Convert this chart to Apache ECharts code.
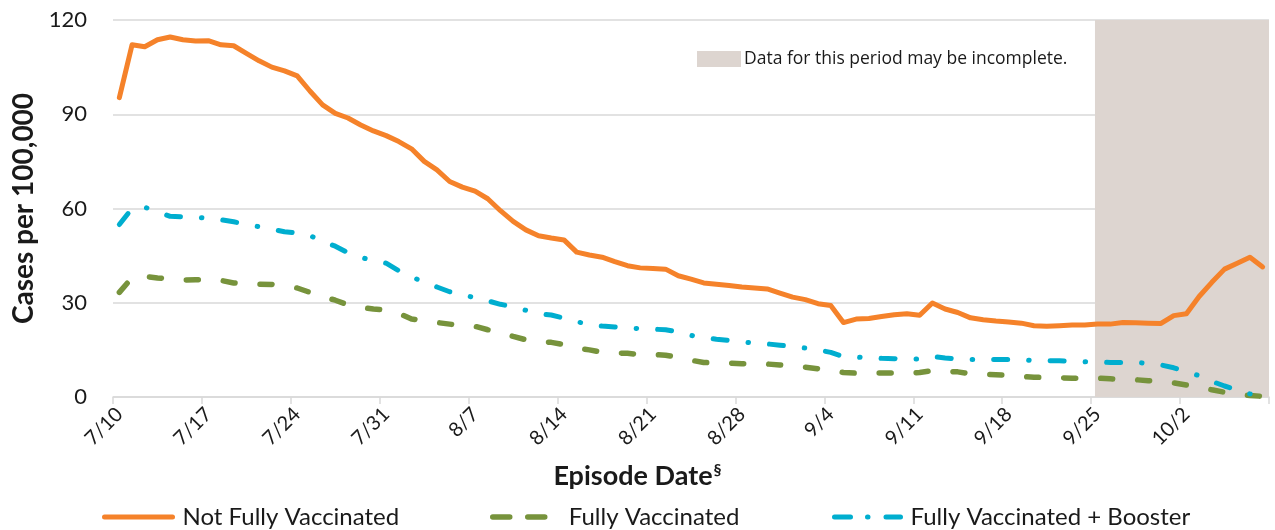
<!DOCTYPE html>
<html>
<head>
<meta charset="utf-8">
<script src="https://cdn.jsdelivr.net/npm/echarts@6/dist/echarts.min.js"></script>
<style>
html,body{margin:0;padding:0;background:#fff;}
#chart{width:1275px;height:530px;}
</style>
</head>
<body>
<div id="chart"></div>
<script>
// Categories: episode dates 7/10 .. 10/8
const categories = [
 '7/10','7/11','7/12','7/13','7/14','7/15','7/16','7/17','7/18','7/19','7/20','7/21','7/22','7/23','7/24','7/25','7/26','7/27','7/28','7/29','7/30','7/31',
 '8/1','8/2','8/3','8/4','8/5','8/6','8/7','8/8','8/9','8/10','8/11','8/12','8/13','8/14','8/15','8/16','8/17','8/18','8/19','8/20','8/21','8/22','8/23','8/24','8/25','8/26','8/27','8/28','8/29','8/30','8/31',
 '9/1','9/2','9/3','9/4','9/5','9/6','9/7','9/8','9/9','9/10','9/11','9/12','9/13','9/14','9/15','9/16','9/17','9/18','9/19','9/20','9/21','9/22','9/23','9/24','9/25','9/26','9/27','9/28','9/29','9/30',
 '10/1','10/2','10/3','10/4','10/5','10/6','10/7','10/8'
];

const notFullyVaccinated = [
 95.3,112.1,111.5,113.7,114.6,113.7,113.3,113.4,112.1,111.8,
 109.4,107.0,105.0,103.8,102.2,97.4,93.0,90.3,88.8,86.6,
 84.7,83.2,81.3,79.0,75.0,72.3,68.6,66.8,65.5,63.1,
 59.3,55.9,53.2,51.3,50.6,50.0,46.1,45.2,44.5,43.1,
 41.8,41.1,40.9,40.7,38.6,37.5,36.3,35.9,35.5,35.0,
 34.7,34.4,33.1,31.8,31.0,29.7,29.1,23.7,24.8,25.0,
 25.6,26.2,26.5,26.0,29.9,28.0,26.9,25.2,24.6,24.2,
 23.9,23.5,22.7,22.5,22.7,22.9,22.9,23.2,23.2,23.7,
 23.6,23.5,23.4,25.9,26.5,32.0,36.5,40.7,42.6,44.5,
 41.4
];

const fullyVaccinated = [
 33.3,38.0,38.4,37.9,37.5,37.2,37.3,37.3,37.1,36.3,
 36.0,35.9,35.8,35.4,34.7,33.3,32.0,30.8,29.3,28.5,
 28.0,27.7,26.6,24.8,24.3,23.7,23.2,22.6,22.5,21.4,
 20.5,19.3,18.2,17.6,17.4,16.7,15.6,15.0,14.2,14.0,
 13.9,13.5,13.5,13.3,12.6,11.7,11.0,10.8,10.8,10.6,
 10.5,10.5,10.2,9.9,9.5,9.0,8.5,7.8,7.6,7.6,
 7.6,7.6,7.6,7.8,8.4,8.2,8.0,7.4,7.2,7.1,
 6.9,6.5,6.3,6.2,6.1,6.0,6.0,6.0,5.8,5.5,
 5.5,5.2,5.0,4.5,3.8,3.2,2.3,1.5,0.9,0.5,
 0.2
];

const fullyVaccinatedBooster = [
 54.9,60.0,60.4,59.0,57.5,57.3,57.2,56.9,56.4,55.8,
 54.9,54.2,53.4,52.6,52.2,51.4,49.5,48.0,45.9,44.5,
 43.3,42.6,40.2,38.2,36.6,35.0,33.5,32.5,31.6,30.6,
 29.5,28.7,27.6,26.5,26.1,25.1,24.0,23.0,22.6,22.3,
 21.9,21.8,21.6,21.4,20.7,19.6,18.9,18.4,18.0,17.5,
 17.2,16.9,16.5,16.0,15.6,15.0,14.2,12.8,12.7,12.5,
 12.3,12.2,12.1,12.1,12.9,12.4,12.1,11.9,11.9,11.9,
 11.9,11.9,11.6,11.6,11.5,11.3,11.2,11.1,11.0,11.0,
 11.1,10.6,10.2,9.3,8.0,6.8,5.0,3.5,2.2,1.0,
 0.3
];

const yTicks = [0, 30, 60, 90, 120];
// Incomplete-data period, in category units along the axis (start .. end of axis)
const incompleteStart = 77.3;
const incompleteEnd = 91;

const seriesNames = ['Not Fully Vaccinated', 'Fully Vaccinated', 'Fully Vaccinated + Booster'];
const shadeName = 'Data for this period may be incomplete.';

const FONT = 'Lato, "Open Sans", sans-serif';
const TXT = '#1a1a1a';
const GRID = '#D9D9D9';
const C_ORANGE = '#F5822A';
const C_GREEN = '#77933C';
const C_CYAN = '#00AECF';

const chart = echarts.init(document.getElementById('chart'), null, {renderer: 'canvas'});

const legendText = (pad) => ({fontFamily: FONT, fontSize: 24, color: TXT, padding: [0,0,0,pad]});

const option = {
  animation: false,
  backgroundColor: '#ffffff',
  textStyle: {fontFamily: FONT, color: TXT},
  title: {
    text: '{a|Episode Date}{b|§}',
    left: 'center',
    top: 462,
    padding: 0,
    textStyle: {
      rich: {
        a: {fontFamily: FONT, fontWeight: 'bold', fontSize: 27, color: TXT},
        b: {fontFamily: FONT, fontWeight: 'bold', fontSize: 16, color: TXT, verticalAlign: 'top', padding: [0,0,12,1]}
      }
    }
  },
  grid: {left: 113, right: 6, top: 20, bottom: 133, containLabel: false},
  legend: [
    {
      data: [seriesNames[0]], left: 102, top: 505, padding: 0,
      itemWidth: 68, itemHeight: 14,
      itemStyle: {opacity: 0},
      lineStyle: {width: 5},
      textStyle: legendText(5)
    },
    {
      data: [seriesNames[1]], left: 490, top: 505, padding: 0,
      itemWidth: 56, itemHeight: 14,
      itemStyle: {opacity: 0},
      lineStyle: {width: 5.5, type: [17, 18], cap: 'round'},
      textStyle: legendText(15)
    },
    {
      data: [seriesNames[2]], left: 832, top: 505, padding: 0,
      itemWidth: 66, itemHeight: 14,
      itemStyle: {opacity: 0},
      lineStyle: {width: 5, type: [16, 17, 0.5, 18], cap: 'round'},
      textStyle: legendText(5)
    },
    {
      data: [{name: shadeName, icon: 'rect'}], left: 697, top: 50, padding: 0,
      itemWidth: 44, itemHeight: 16,
      textStyle: {fontFamily: '"Open Sans", sans-serif', fontSize: 17.5, color: TXT, padding: [0,0,0,-2]}
    }
  ],
  xAxis: [
    {
      type: 'category',
      data: categories,
      boundaryGap: true,
      axisLine: {lineStyle: {color: GRID, width: 1.5}},
      axisTick: {show: true, interval: 6, length: 7, lineStyle: {color: GRID, width: 1.5}},
      axisLabel: {interval: 6, rotate: 45, fontFamily: FONT, fontSize: 20, color: TXT, margin: 14},
      splitLine: {show: false}
    },
    {
      type: 'value', min: 0, max: incompleteEnd, show: false
    }
  ],
  yAxis: {
    type: 'value',
    min: yTicks[0], max: yTicks[yTicks.length - 1], interval: 30,
    name: 'Cases per 100,000',
    nameLocation: 'middle',
    nameGap: 71,
    nameTextStyle: {fontFamily: FONT, fontWeight: 'bold', fontSize: 28, color: TXT},
    axisLine: {show: false},
    axisTick: {show: false},
    axisLabel: {fontFamily: FONT, fontSize: 22, color: TXT, margin: 26},
    splitLine: {lineStyle: {color: GRID, width: 1.5}}
  },
  series: [
    {
      name: shadeName,
      type: 'line',
      xAxisIndex: 1,
      yAxisIndex: 0,
      data: [],
      z: 1,
      itemStyle: {color: '#DDD5D0'},
      lineStyle: {color: '#DDD5D0'},
      markArea: {
        silent: true,
        itemStyle: {color: '#DDD5D0'},
        data: [[{xAxis: incompleteStart}, {xAxis: incompleteEnd}]]
      }
    },
    {
      name: seriesNames[0],
      type: 'line',
      data: notFullyVaccinated,
      symbol: 'none',
      z: 5,
      itemStyle: {color: C_ORANGE},
      lineStyle: {color: C_ORANGE, width: 5, join: 'round', cap: 'round'}
    },
    {
      name: seriesNames[1],
      type: 'line',
      data: fullyVaccinated,
      symbol: 'none',
      z: 4,
      itemStyle: {color: C_GREEN},
      lineStyle: {color: C_GREEN, width: 5.5, type: [12, 25], cap: 'round', join: 'round'}
    },
    {
      name: seriesNames[2],
      type: 'line',
      data: fullyVaccinatedBooster,
      symbol: 'none',
      z: 4,
      itemStyle: {color: C_CYAN},
      lineStyle: {color: C_CYAN, width: 5, type: [14, 21, 0.5, 21], cap: 'round', join: 'round'}
    }
  ]
};
chart.setOption(option);
</script>
</body>
</html>
